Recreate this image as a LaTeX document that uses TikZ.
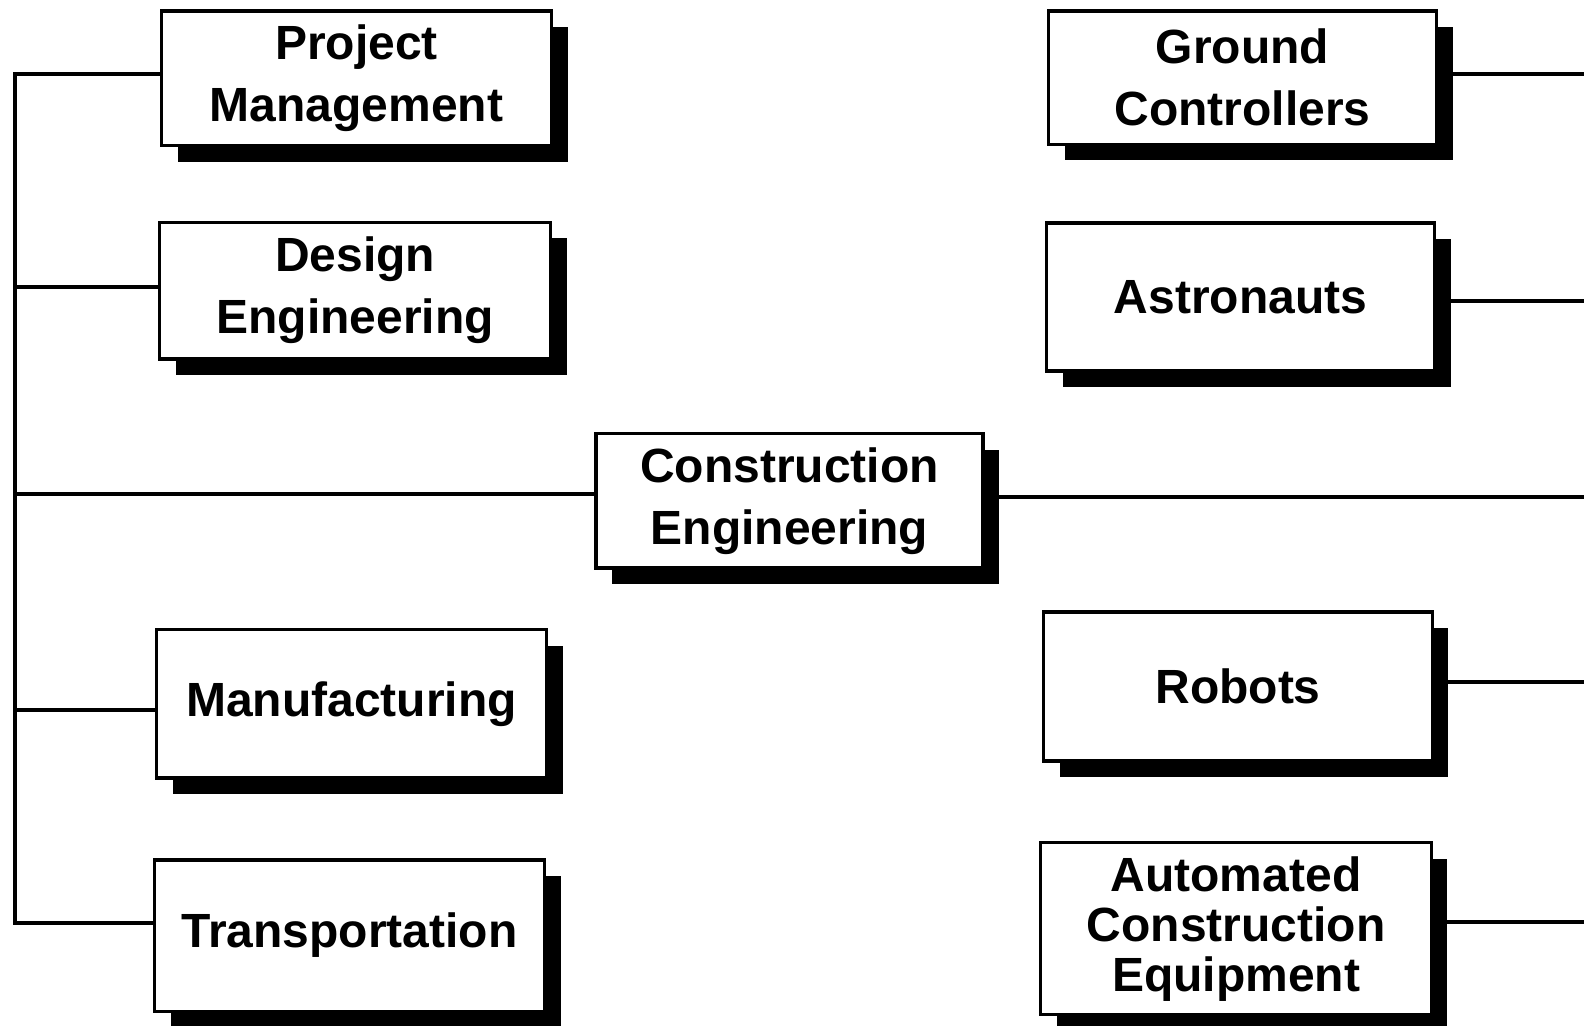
\documentclass[tikz,border=0pt]{standalone}
\usepackage{fontspec}
\setmainfont{Liberation Sans}
\usetikzlibrary{shadows}
\tikzset{
  orgbox/.style={draw, line width=1.8pt, fill=white, align=center, inner sep=0pt,
    font=\fontsize{24}{31}\selectfont\bfseries,
    drop shadow={shadow xshift=8pt, shadow yshift=-8pt, opacity=1, fill=black}},
  link/.style={line width=2pt, line join=miter}
}
\begin{document}
\begin{tikzpicture}[x=0.5pt, y=-0.5pt]
\useasboundingbox (0,0) rectangle (1584,1026);
% left column
\node[orgbox, minimum width=195pt, minimum height=67.2pt] (pm) at (356.6,78.5) {Project\\Management};
\node[orgbox, minimum width=195.5pt, minimum height=68.2pt] (de) at (355.1,290.6) {Design\\Engineering};
\node[orgbox, minimum width=193.5pt, minimum height=67.2pt] (ce) at (789.5,500.8) {Construction\\Engineering};
\node[orgbox, minimum width=195pt, minimum height=74.3pt] (mf) at (351.6,703.8) {Manufacturing};
\node[orgbox, minimum width=195pt, minimum height=75.8pt] (tr) at (349.6,935.5) {Transportation};
% right column
\node[orgbox, minimum width=194pt, minimum height=66.7pt] (gc) at (1242.6,77.8) {Ground\\Controllers};
\node[orgbox, minimum width=194pt, minimum height=73.8pt] (as) at (1240.6,297) {Astronauts};
\node[orgbox, minimum width=194.4pt, minimum height=74.3pt] (rb) at (1238,686.5) {Robots};
\node[orgbox, minimum width=195.4pt, minimum height=86pt, font=\fontsize{24}{25}\selectfont\bfseries] (ace) at (1236,928.6) {Automated\\Construction\\Equipment};
% bus coordinates
\coordinate (b1) at (15.2,73.7);
\coordinate (b2) at (15.2,286.9);
\coordinate (b3) at (15.2,494);
\coordinate (b4) at (15.2,710);
\coordinate (b5) at (15.2,923.3);
\coordinate (r1) at (1584,73.7);
\coordinate (r2) at (1584,301);
\coordinate (r3) at (1584,497);
\coordinate (r4) at (1584,681.9);
\coordinate (r5) at (1584,922.3);
% left connectors
\draw[link] (pm.west |- b1) -- (b1) -- (b5) -- (tr.west |- b5);
\draw[link] (b2) -- (de.west |- b2);
\draw[link] (b3) -- (ce.west |- b3);
\draw[link] (b4) -- (mf.west |- b4);
% right connectors
\draw[link] (gc.east |- r1) -- (r1);
\draw[link] (as.east |- r2) -- (r2);
\draw[link] (ce.east |- r3) -- (r3);
\draw[link] (rb.east |- r4) -- (r4);
\draw[link] (ace.east |- r5) -- (r5);
\end{tikzpicture}
\end{document}
